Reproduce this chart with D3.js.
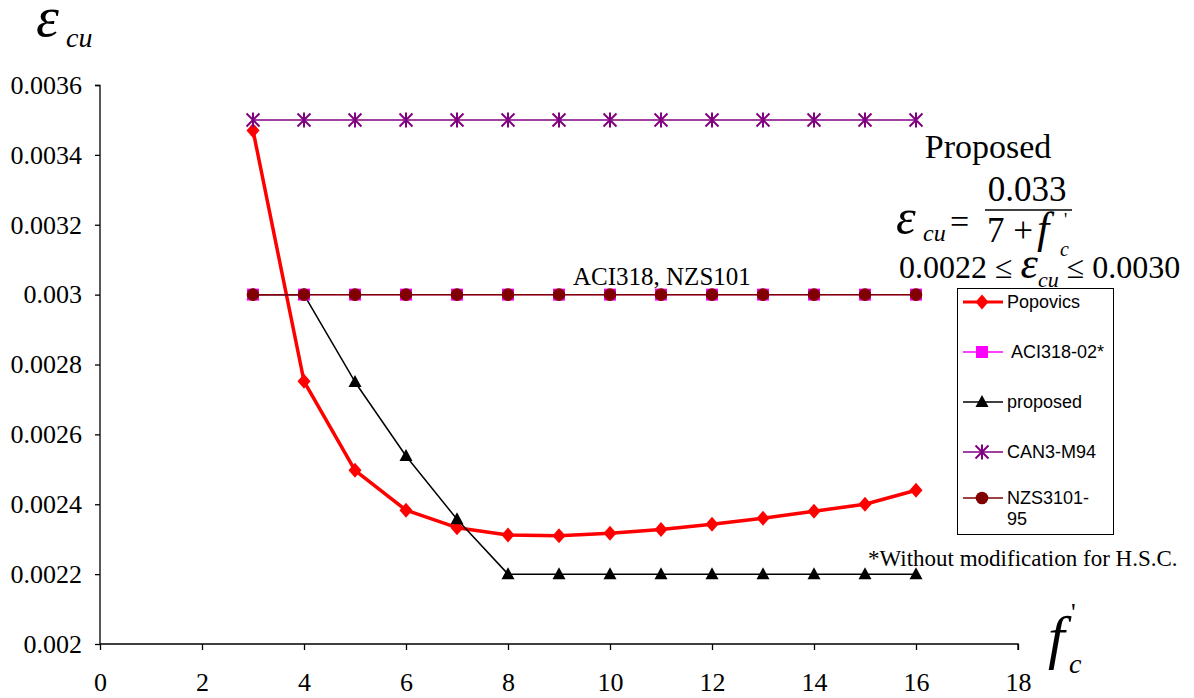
<!DOCTYPE html>
<html><head><meta charset="utf-8">
<script src="https://cdn.jsdelivr.net/npm/d3@7"></script>
<style>body{margin:0;background:#fff}svg{display:block}</style>
</head><body>
<svg id="c" width="1194" height="698"></svg>
<script>
const fcValues = [3,4,5,6,7,8,9,10,11,12,13,14,15,16];
const popovics = [0.00347,0.002752,0.002497,0.002383,0.002333,0.002312,0.00231,0.002317,0.002328,0.002343,0.00236,0.00238,0.0024,0.00244];
const aci318 = [0.003,0.003,0.003,0.003,0.003,0.003,0.003,0.003,0.003,0.003,0.003,0.003,0.003,0.003];
const proposed = [0.003,0.003,0.00275,0.002538,0.002357,0.0022,0.0022,0.0022,0.0022,0.0022,0.0022,0.0022,0.0022,0.0022];
const can3 = [0.0035,0.0035,0.0035,0.0035,0.0035,0.0035,0.0035,0.0035,0.0035,0.0035,0.0035,0.0035,0.0035,0.0035];
const nzs3101 = [0.003,0.003,0.003,0.003,0.003,0.003,0.003,0.003,0.003,0.003,0.003,0.003,0.003,0.003];
const xTicks = [0,2,4,6,8,10,12,14,16,18];
const yTicks = [0.002,0.0022,0.0024,0.0026,0.0028,0.003,0.0032,0.0034,0.0036];
const seriesNames = ["Popovics"," ACI318-02*","proposed","CAN3-M94","NZS3101-\n95"];

const svg = d3.select("#c");
const x = d3.scaleLinear().domain([0,18]).range([100,1018]);
const y = d3.scaleLinear().domain([0.002,0.0036]).range([644,85]);
const serif = "'Liberation Serif', 'Times New Roman', serif";
const sans = "'Liberation Sans', Arial, sans-serif";

// axes
const yAxis = svg.append("g").attr("transform","translate(100,0)")
  .call(d3.axisLeft(y).tickValues(yTicks).tickSize(5).tickPadding(13).tickFormat(d=>String(+d.toFixed(4))));
const xAxis = svg.append("g").attr("transform","translate(0,644)")
  .call(d3.axisBottom(x).tickValues(xTicks).tickSize(6).tickPadding(23).tickFormat(d3.format("d")));
[yAxis,xAxis].forEach(g=>{
  g.attr("font-family",serif).attr("font-size",26);
  g.selectAll("path").attr("stroke","#000").attr("stroke-width",1.3);
  g.selectAll("line").attr("stroke","#000").attr("stroke-width",1.3);
  g.selectAll("text").style("font-family",serif).style("font-size","26px").attr("fill","#000");
});
yAxis.select(".domain").attr("d","M-5,85.5H0V644.5");
xAxis.select(".domain").attr("d","M100,0H1018V6");

const series = [
  {name:seriesNames[0], vals:popovics, color:"#ff0000", w:3.5, marker:"diamond", mc:"#ff0000"},
  {name:seriesNames[1], vals:aci318, color:"#ff00ff", w:1.2, marker:"square", mc:"#ff00ff"},
  {name:seriesNames[2], vals:proposed, color:"#000000", w:1.5, marker:"triangle", mc:"#000000"},
  {name:seriesNames[3], vals:can3, color:"#800080", w:1.5, marker:"star", mc:"#800080"},
  {name:seriesNames[4], vals:nzs3101, color:"#800000", w:1.5, marker:"circle", mc:"#800000"}
];

function drawMarker(g, type, cx, cy, c){
  if(type==="diamond"){
    g.append("path").attr("d",`M${cx},${cy-7.5}L${cx+6.5},${cy}L${cx},${cy+7.5}L${cx-6.5},${cy}Z`).attr("fill",c);
  } else if(type==="square"){
    g.append("rect").attr("x",cx-6).attr("y",cy-6).attr("width",12).attr("height",12).attr("fill",c);
  } else if(type==="triangle"){
    g.append("path").attr("d",`M${cx},${cy-7}L${cx+6.5},${cy+5}L${cx-6.5},${cy+5}Z`).attr("fill",c);
  } else if(type==="star"){
    const r=6.5;
    g.append("path").attr("d",`M${cx-r},${cy-r}L${cx+r},${cy+r}M${cx-r},${cy+r}L${cx+r},${cy-r}M${cx},${cy-r-1}L${cx},${cy+r+1}`)
      .attr("stroke",c).attr("stroke-width",2).attr("fill","none");
  } else if(type==="circle"){
    g.append("circle").attr("cx",cx).attr("cy",cy).attr("r",6.3).attr("fill",c);
  }
}

const line = d3.line().x((d,i)=>x(fcValues[i])).y(d=>y(d));
const plot = svg.append("g");
// lines (Popovics drawn first so the thin lines and markers sit over it where they cross)
[0,2,1,3,4].forEach(k=>{
  const s=series[k];
  plot.append("path").datum(s.vals).attr("d",line).attr("fill","none")
    .attr("stroke",s.color).attr("stroke-width",s.w).attr("stroke-linejoin","round");
});
[0,2,1,4,3].forEach(k=>{
  const s=series[k];
  const g=plot.append("g");
  s.vals.forEach((v,i)=>drawMarker(g,s.marker,x(fcValues[i]),y(v),s.mc));
});

// legend
const lg = svg.append("g");
lg.append("rect").attr("x",957.5).attr("y",288.5).attr("width",156).attr("height",246).attr("fill","#fff").attr("stroke","#000").attr("stroke-width",1);
const ly = [302,352,402,452,498];
series.forEach((s,i)=>{
  lg.append("line").attr("x1",963).attr("x2",1003).attr("y1",ly[i]).attr("y2",ly[i]).attr("stroke",s.color).attr("stroke-width",s.w===3.5?3:1.5);
  drawMarker(lg,s.marker,982,ly[i],s.mc);
  s.name.split("\n").forEach((t,j)=>{
    lg.append("text").attr("x",1007).attr("y",ly[i]+6+j*21).style("font-family",sans).style("font-size","18px").attr("fill","#000")
      .style("white-space","pre").text(t);
  });
});

// annotations
svg.append("text").attr("x",573).attr("y",285).style("font-family",serif).style("font-size","25px").text("ACI318, NZS101");
svg.append("text").attr("x",868).attr("y",566).style("font-family",serif).style("font-size","23px").text("*Without modification for H.S.C.");

// y axis title
svg.append("text").attr("x",36).attr("y",36).style("font-family",serif).style("font-style","italic").style("font-size","58px").text("ε");
svg.append("text").attr("x",66).attr("y",47).style("font-family",serif).style("font-style","italic").style("font-size","28px").text("cu");

// x axis title
svg.append("text").attr("x",1048).attr("y",657).style("font-family",serif).style("font-style","italic").style("font-size","60px").text("f");
svg.append("text").attr("x",1069).attr("y",673).style("font-family",serif).style("font-style","italic").style("font-size","28px").text("c");
svg.append("text").attr("x",1071).attr("y",621).style("font-family",serif).style("font-size","26px").text("'");

// proposed formula
svg.append("text").attr("x",988).attr("y",158).attr("text-anchor","middle").style("font-family",serif).style("font-size","34px").text("Proposed");
svg.append("text").attr("x",896).attr("y",234).style("font-family",serif).style("font-style","italic").style("font-size","50px").text("ε");
svg.append("text").attr("x",923).attr("y",241).style("font-family",serif).style("font-style","italic").style("font-size","24px").text("cu");
svg.append("text").attr("x",950).attr("y",233).style("font-family",serif).style("font-size","34px").text("=");
svg.append("text").attr("x",1027).attr("y",201).attr("text-anchor","middle").style("font-family",serif).style("font-size","35px").text("0.033");
svg.append("line").attr("x1",985).attr("x2",1072).attr("y1",210).attr("y2",210).attr("stroke","#000").attr("stroke-width",1.5);
svg.append("text").attr("x",987).attr("y",242).style("font-family",serif).style("font-size","35px").text("7 +");
svg.append("text").attr("x",1037).attr("y",243).style("font-family",serif).style("font-style","italic").style("font-size","44px").text("f");
svg.append("text").attr("x",1060).attr("y",256).style("font-family",serif).style("font-style","italic").style("font-size","20px").text("c");
svg.append("text").attr("x",1064).attr("y",226).style("font-family",serif).style("font-size","18px").text("'");
const ineq = svg.append("text").attr("x",899).attr("y",278).style("font-family",serif).style("font-size","32px");
ineq.append("tspan").text("0.0022 ≤ ");
ineq.append("tspan").style("font-style","italic").style("font-size","44px").text("ε");
ineq.append("tspan").style("font-style","italic").style("font-size","22px").attr("dy",9).text("cu");
ineq.append("tspan").attr("dy",-9).text(" ≤ 0.0030");
</script>
</body></html>
